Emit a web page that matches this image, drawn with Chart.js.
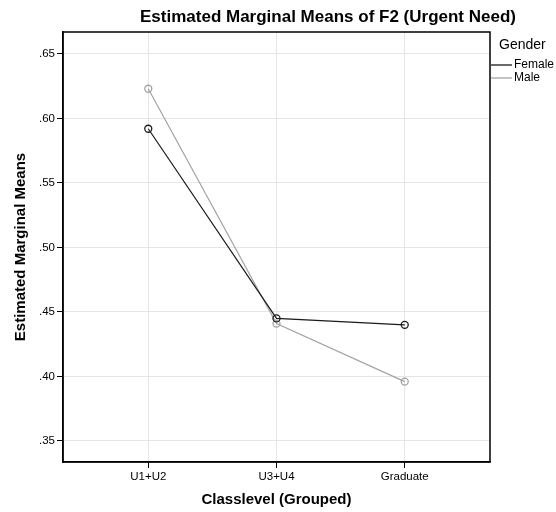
<!DOCTYPE html>
<html>
<head>
  <title>Estimated Marginal Means of F2</title>
  <style>
    body { margin: 0; background: #fff; }
    #wrap { width: 556px; height: 512px; }
  </style>
  <script src="https://cdn.jsdelivr.net/npm/chart.js"></script>
</head>
<body>
  <div id="wrap"><canvas id="emm-chart" width="556" height="512"></canvas></div>
  <script>
    const categories = ["U1+U2", "U3+U4", "Graduate"];
    const female = [0.592, 0.445, 0.440];
    const male = [0.623, 0.441, 0.396];
    const yTicks = [0.35, 0.40, 0.45, 0.50, 0.55, 0.60, 0.65];
    const chartTitle = "Estimated Marginal Means of F2 (Urgent Need)";
    const legendTitle = "Gender";

    const toPoints = arr => arr.map((v, i) => ({x: i, y: v}));

    // title, legend and closed frame round the plot
    const extras = {
      id: 'extras',
      afterDraw(chart) {
        const ctx = chart.ctx, a = chart.chartArea;
        ctx.save();
        ctx.strokeStyle = '#000';
        ctx.lineWidth = 1.5;
        ctx.strokeRect(a.left, a.top, a.right - a.left, a.bottom - a.top);

        ctx.fillStyle = '#000';
        ctx.font = 'bold 17px "Liberation Sans"';
        ctx.textAlign = 'center';
        ctx.textBaseline = 'middle';
        ctx.fillText(chartTitle, 328, 17);

        ctx.textAlign = 'left';
        ctx.font = '14px "Liberation Sans"';
        ctx.fillText(legendTitle, 499, 45);
        ctx.font = '12px "Liberation Sans"';
        chart.data.datasets.forEach((ds, i) => {
          const y = 65 + i * 13;
          ctx.strokeStyle = ds.borderColor;
          ctx.lineWidth = 1.3;
          ctx.beginPath();
          ctx.moveTo(491, y);
          ctx.lineTo(512, y);
          ctx.stroke();
          ctx.fillStyle = '#000';
          ctx.fillText(ds.label, 514, y);
        });
        ctx.restore();
      }
    };

    const ctx = document.getElementById('emm-chart').getContext('2d');
    new Chart(ctx, {
      type: 'line',
      data: {
        datasets: [
          {
            label: "Female",
            data: toPoints(female),
            borderColor: "#1a1a1a",
            borderWidth: 1.2,
            pointRadius: 3.5,
            pointBorderWidth: 1.3,
            pointBorderColor: "#1a1a1a",
            pointBackgroundColor: "rgba(255,255,255,0)"
          },
          {
            label: "Male",
            data: toPoints(male),
            borderColor: "#a3a3a3",
            borderWidth: 1.2,
            pointRadius: 3.5,
            pointBorderWidth: 1.3,
            pointBorderColor: "#a3a3a3",
            pointBackgroundColor: "rgba(255,255,255,0)"
          }
        ]
      },
      options: {
        responsive: false,
        animation: false,
        layout: { padding: { top: 32, right: 66, left: 0, bottom: 0 } },
        plugins: {
          legend: { display: false },
          tooltip: { enabled: false }
        },
        scales: {
          x: {
            type: 'linear',
            min: -0.665,
            max: 2.665,
            afterBuildTicks: s => { s.ticks = categories.map((c, i) => ({value: i})); },
            afterFit: s => { s.height = 50; },
            ticks: {
              callback: v => categories[v],
              color: '#000',
              font: { family: 'Liberation Sans', size: 11.5 },
              padding: 2,
              maxRotation: 0
            },
            grid: { color: '#e6e6e6', tickColor: '#000', tickLength: 6, lineWidth: 1 },
            border: { display: true, color: '#000', width: 1.5 },
            title: {
              display: true,
              text: 'Classlevel (Grouped)',
              color: '#000',
              font: { family: 'Liberation Sans', size: 15, weight: 'bold' },
              padding: { top: 0, bottom: 3 }
            }
          },
          y: {
            min: 0.3337,
            max: 0.667,
            afterBuildTicks: s => { s.ticks = yTicks.map(v => ({value: v})); },
            afterFit: s => { s.width = 63; },
            ticks: {
              callback: v => v.toFixed(2).replace(/^0/, ''),
              color: '#000',
              font: { family: 'Liberation Sans', size: 11.5 },
              padding: 2
            },
            grid: { color: '#e6e6e6', tickColor: '#000', tickLength: 6, lineWidth: 1 },
            border: { display: true, color: '#000', width: 1.5 },
            title: {
              display: true,
              text: 'Estimated Marginal Means',
              color: '#000',
              font: { family: 'Liberation Sans', size: 15, weight: 'bold' },
              padding: { top: 12, bottom: 0 }
            }
          }
        }
      },
      plugins: [extras]
    });
  </script>
</body>
</html>
